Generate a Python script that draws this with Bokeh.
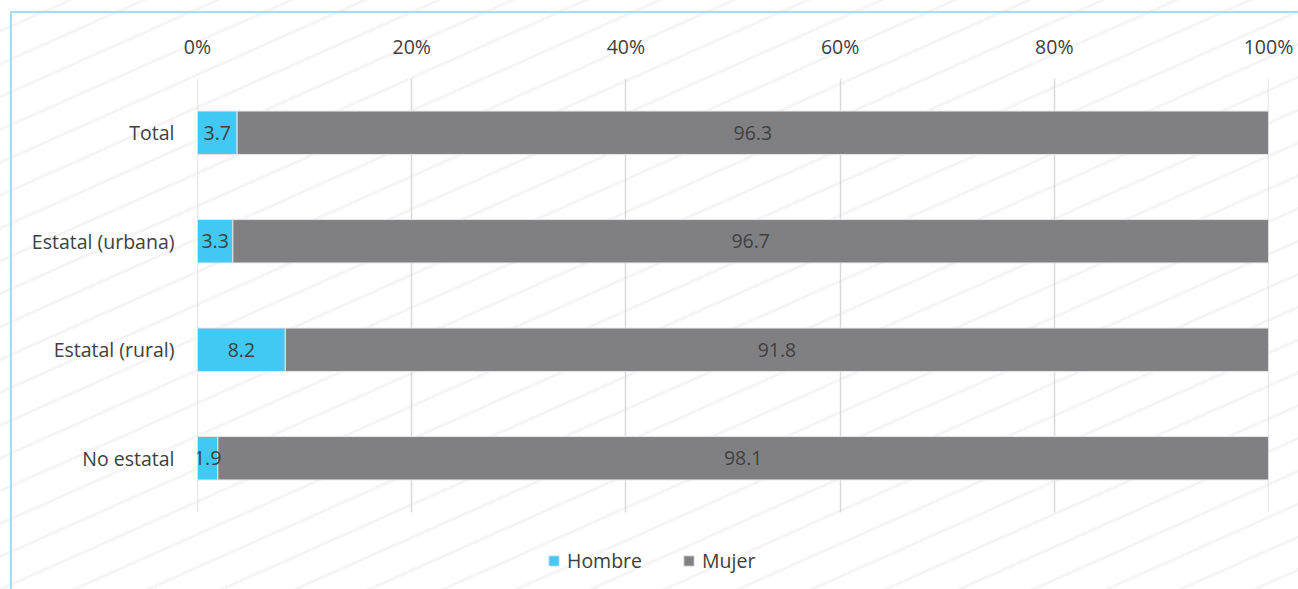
from bokeh.plotting import figure
from bokeh.models import (ColumnDataSource, LabelSet, Legend, LegendItem, Range1d,
                          CustomJSTickFormatter, FixedTicker, Grid)
from bokeh.core.properties import value
from bokeh.embed import file_html
from bokeh.resources import INLINE

categories = ["Total", "Estatal (urbana)", "Estatal (rural)", "No estatal"]
hombre = [3.7, 3.3, 8.2, 1.9]
mujer = [96.3, 96.7, 91.8, 98.1]
tick_values = [0, 20, 40, 60, 80, 100]
series_names = ["Hombre", "Mujer"]
colors = ["#41c8f3", "#808083"]

FONT = "Open Sans"
TXT = "#404040"
FS = "19.5px"

n = len(categories)
ypos = [n - 1 - i for i in range(n)]

src = ColumnDataSource(dict(
    y=ypos,
    Hombre=hombre,
    Mujer=mujer,
    h_mid=[h / 2 for h in hombre],
    m_mid=[h + m / 2 for h, m in zip(hombre, mujer)],
    h_lab=[f"{v:.1f}" for v in hombre],
    m_lab=[f"{v:.1f}" for v in mujer],
))

W, H = 1298, 589
TOP, LEFT, RIGHT, BOTTOM = 78, 197, 30, 0
band_px = 108.5
frame_h = H - TOP - BOTTOM
y_top = n - 0.5
y_bot = y_top - frame_h / band_px
eps = 1e-4

p = figure(
    width=W, height=H,
    y_range=Range1d(y_bot, y_top),
    x_range=Range1d(tick_values[0] - eps, tick_values[-1] + eps),
    output_backend="svg", toolbar_location=None,
    x_axis_location="above",
    min_border_left=LEFT, min_border_right=RIGHT, min_border_top=TOP, min_border_bottom=BOTTOM,
)
p.background_fill_alpha = 0
p.border_fill_alpha = 0
p.outline_line_color = None
p.styles = {
    "background-image": "linear-gradient(#a6dcf3,#a6dcf3), linear-gradient(#a6dcf3,#a6dcf3), "
                        "repeating-linear-gradient(156deg, rgba(0,0,0,0) 0px, rgba(0,0,0,0) 27px, #f5f5f5 27px, #f5f5f5 30px)",
    "background-size": "2px 100%, 100% 2px, 100% 100%",
    "background-position": "10px 11px, 10px 11px, 0 0",
    "background-repeat": "no-repeat",
}

# vertical grid lines limited to the category band
p.xgrid.grid_line_color = None
p.ygrid.grid_line_color = None
if "cross_bounds" in Grid.properties():
    g = Grid(dimension=0, ticker=FixedTicker(ticks=tick_values), grid_line_color="#d9d9d9",
             grid_line_width=1.5, cross_bounds=(-0.5, y_top))
    p.add_layout(g)
else:
    p.segment(x0=tick_values, x1=tick_values, y0=[-0.5] * len(tick_values),
              y1=[y_top] * len(tick_values), line_color="#d9d9d9", line_width=1.5)

renderers = p.hbar_stack(series_names, y="y", height=0.4, color=colors,
                         line_color="#e6e6e6", line_width=1, source=src)

for xcol, tcol in (("h_mid", "h_lab"), ("m_mid", "m_lab")):
    p.add_layout(LabelSet(x=xcol, y="y", text=tcol, source=src, text_align="center",
                          text_baseline="middle", text_color=TXT, text_font=value(FONT),
                          text_font_size=FS))

xa = p.xaxis[0]
xa.ticker = FixedTicker(ticks=tick_values)
xa.formatter = CustomJSTickFormatter(code="return Math.round(tick) + '%';")
xa.axis_line_color = None
xa.major_tick_line_color = None
xa.minor_tick_line_color = None
xa.major_label_standoff = 13
xa.major_label_text_font = FONT
xa.major_label_text_font_size = FS
xa.major_label_text_color = TXT

ya = p.yaxis[0]
ya.ticker = FixedTicker(ticks=ypos)
ya.major_label_overrides = {y: c for y, c in zip(ypos, categories)}
ya.axis_line_color = None
ya.major_tick_line_color = None
ya.minor_tick_line_color = None
ya.major_label_standoff = 17
ya.major_label_text_font = FONT
ya.major_label_text_font_size = FS
ya.major_label_text_color = TXT

legend = Legend(
    items=[LegendItem(label=s, renderers=[r]) for s, r in zip(series_names, renderers)],
    orientation="horizontal", location=(350, 15),
    glyph_width=13, glyph_height=13, spacing=40, padding=0, margin=0, label_standoff=7,
    label_text_font=FONT, label_text_font_size=FS, label_text_color=TXT,
    background_fill_alpha=0, border_line_color=None,
)
p.add_layout(legend)

open("out.html", "w").write(file_html(p, INLINE))
